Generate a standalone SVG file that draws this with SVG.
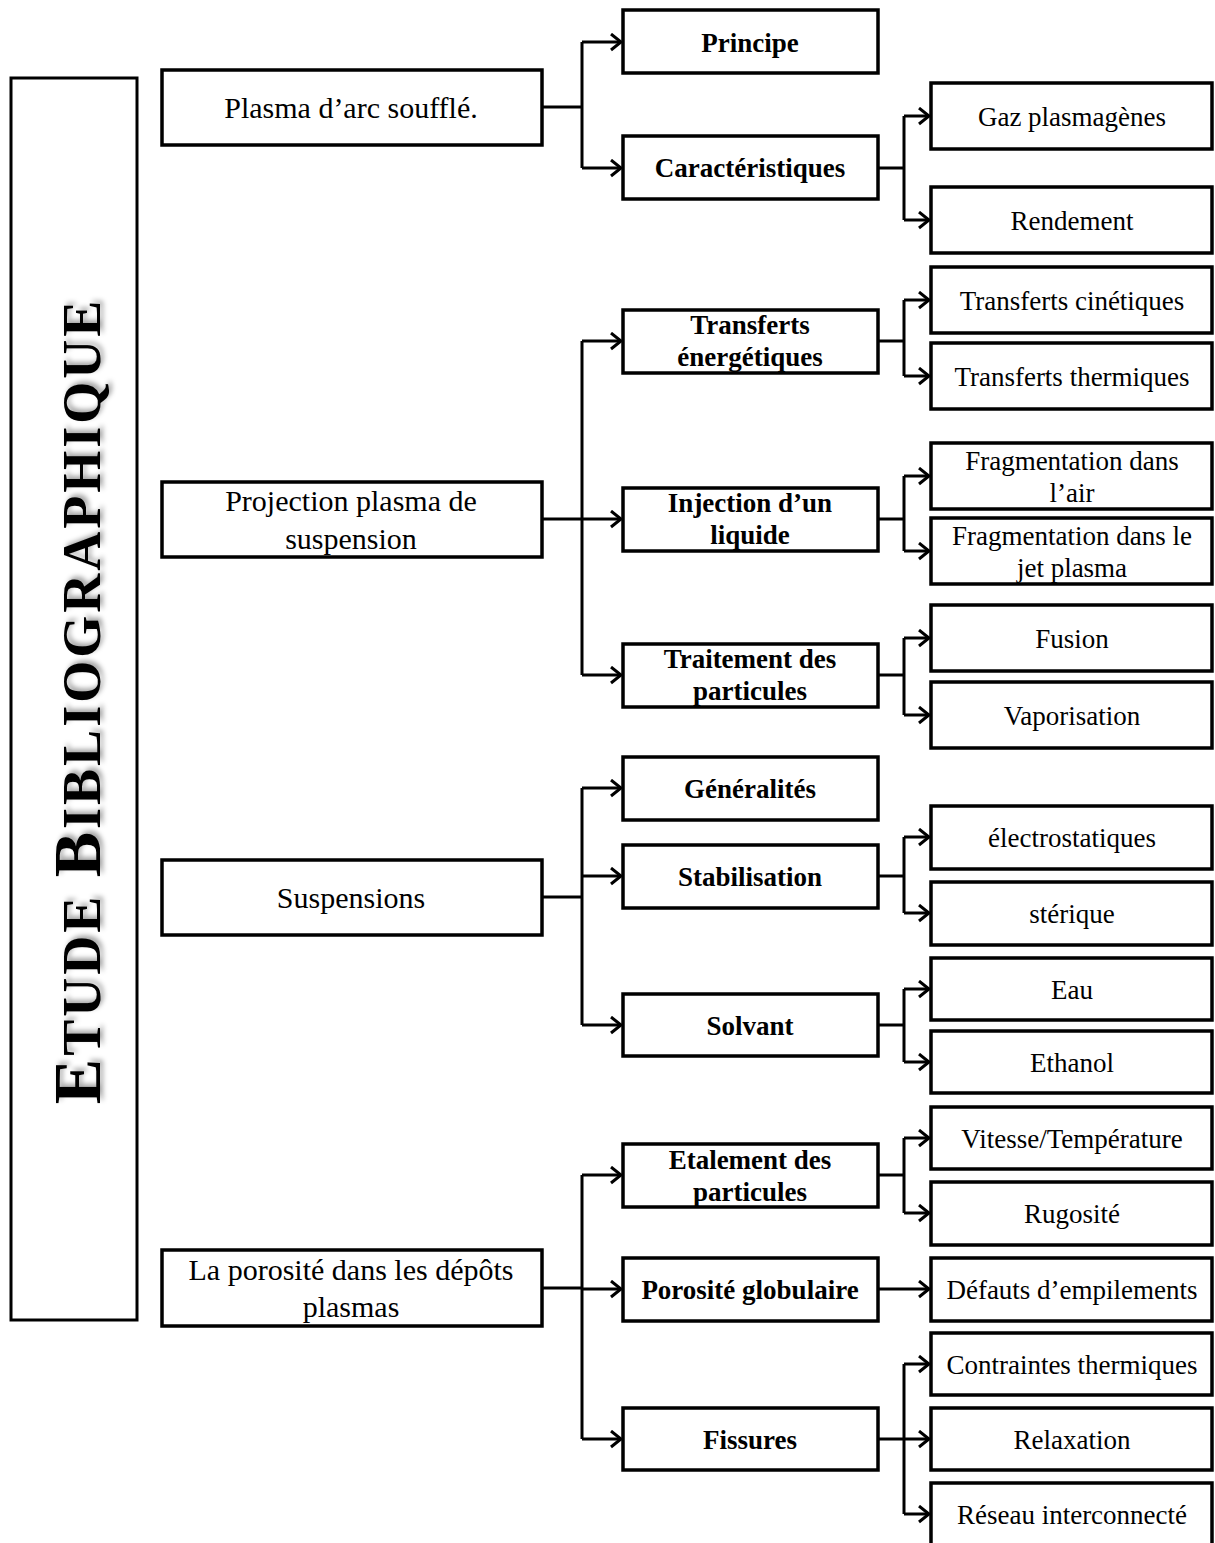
<svg xmlns="http://www.w3.org/2000/svg" width="1215" height="1543" viewBox="0 0 1215 1543">
<style>
.box{fill:#fff;stroke:#000;stroke-width:3.5}
.l1{font-family:"Liberation Serif",serif;font-size:30px;text-anchor:middle;fill:#000}
.l2{font-family:"Liberation Serif",serif;font-size:27px;font-weight:bold;text-anchor:middle;fill:#000}
.l3{font-family:"Liberation Serif",serif;font-size:27px;text-anchor:middle;fill:#000}
.c{fill:none;stroke:#000;stroke-width:3}
.a{fill:none;stroke:#000;stroke-width:3;marker-end:url(#arr)}
.title{font-family:"Liberation Serif",serif;font-weight:bold;text-anchor:middle;fill:#000}
</style>
<defs>
<marker id="arr" markerUnits="userSpaceOnUse" markerWidth="14" markerHeight="20" refX="11" refY="9" orient="auto">
<path d="M1,1 L11,9 L1,17" fill="none" stroke="#000" stroke-width="3"/>
</marker>
<filter id="sh" x="-10%" y="-10%" width="130%" height="130%">
<feDropShadow dx="3" dy="3" stdDeviation="2.5" flood-color="#000" flood-opacity="0.35"/>
</filter>
</defs>
<rect width="1215" height="1543" fill="#fff"/>

<g id="connectors">
<path class="c" d="M542,107 H582 M582,42 V168"/>
<path class="a" d="M582,42 H621"/>
<path class="a" d="M582,168 H621"/>
<path class="c" d="M878,168 H904 M904,116 V220"/>
<path class="a" d="M904,116 H929"/>
<path class="a" d="M904,220 H929"/>

<path class="c" d="M582,341 V675"/>
<path class="a" d="M582,341 H621"/>
<path class="a" d="M542,519 H621"/>
<path class="a" d="M582,675 H621"/>
<path class="c" d="M878,341 H904 M904,300 V376"/>
<path class="a" d="M904,300 H929"/>
<path class="a" d="M904,376 H929"/>
<path class="c" d="M878,519 H904 M904,476 V551"/>
<path class="a" d="M904,476 H929"/>
<path class="a" d="M904,551 H929"/>
<path class="c" d="M878,675 H904 M904,638 V715"/>
<path class="a" d="M904,638 H929"/>
<path class="a" d="M904,715 H929"/>

<path class="c" d="M542,897 H582 M582,788 V1025"/>
<path class="a" d="M582,788 H621"/>
<path class="a" d="M582,876 H621"/>
<path class="a" d="M582,1025 H621"/>
<path class="c" d="M878,876 H904 M904,837 V913"/>
<path class="a" d="M904,837 H929"/>
<path class="a" d="M904,913 H929"/>
<path class="c" d="M878,1025 H904 M904,989 V1062"/>
<path class="a" d="M904,989 H929"/>
<path class="a" d="M904,1062 H929"/>

<path class="c" d="M542,1288 H582 M582,1175 V1439"/>
<path class="a" d="M582,1175 H621"/>
<path class="a" d="M582,1289 H621"/>
<path class="a" d="M582,1439 H621"/>
<path class="c" d="M878,1175 H904 M904,1138 V1213"/>
<path class="a" d="M904,1138 H929"/>
<path class="a" d="M904,1213 H929"/>
<path class="a" d="M878,1289 H929"/>
<path class="c" d="M904,1364 V1514"/>
<path class="a" d="M878,1439 H929"/>
<path class="a" d="M904,1364 H929"/>
<path class="a" d="M904,1514 H929"/>
</g>

<g id="title">
<rect class="box" x="11" y="78" width="126" height="1242" style="stroke-width:3"/>
<text class="title" transform="translate(100,701) rotate(-90)" filter="url(#sh)" letter-spacing="3"><tspan font-size="68">E</tspan><tspan font-size="54">TUDE </tspan><tspan font-size="68">B</tspan><tspan font-size="54">IBLIOGRAPHIQUE</tspan></text>
</g>

<g id="n-plasma-arc"><rect class="box" x="162" y="70" width="380" height="75"/><text class="l1" x="351" y="118">Plasma d’arc soufflé.</text></g>
<g id="n-projection"><rect class="box" x="162" y="482" width="380" height="75"/><text class="l1" x="351" y="511">Projection plasma de</text><text class="l1" x="351" y="549">suspension</text></g>
<g id="n-suspensions"><rect class="box" x="162" y="860" width="380" height="75"/><text class="l1" x="351" y="908">Suspensions</text></g>
<g id="n-porosite"><rect class="box" x="162" y="1250" width="380" height="76"/><text class="l1" x="351" y="1280">La porosité dans les dépôts</text><text class="l1" x="351" y="1317">plasmas</text></g>

<g id="n-principe"><rect class="box" x="623" y="10" width="255" height="63"/><text class="l2" x="750" y="52">Principe</text></g>
<g id="n-caracteristiques"><rect class="box" x="623" y="136" width="255" height="63"/><text class="l2" x="750" y="177">Caractéristiques</text></g>
<g id="n-transferts"><rect class="box" x="623" y="310" width="255" height="63"/><text class="l2" x="750" y="334">Transferts</text><text class="l2" x="750" y="366">énergétiques</text></g>
<g id="n-injection"><rect class="box" x="623" y="488" width="255" height="63"/><text class="l2" x="750" y="512">Injection d’un</text><text class="l2" x="750" y="544">liquide</text></g>
<g id="n-traitement"><rect class="box" x="623" y="644" width="255" height="63"/><text class="l2" x="750" y="668">Traitement des</text><text class="l2" x="750" y="700">particules</text></g>
<g id="n-generalites"><rect class="box" x="623" y="757" width="255" height="63"/><text class="l2" x="750" y="798">Généralités</text></g>
<g id="n-stabilisation"><rect class="box" x="623" y="845" width="255" height="63"/><text class="l2" x="750" y="886">Stabilisation</text></g>
<g id="n-solvant"><rect class="box" x="623" y="994" width="255" height="62"/><text class="l2" x="750" y="1035">Solvant</text></g>
<g id="n-etalement"><rect class="box" x="623" y="1144" width="255" height="63"/><text class="l2" x="750" y="1169">Etalement des</text><text class="l2" x="750" y="1201">particules</text></g>
<g id="n-porosite-globulaire"><rect class="box" x="623" y="1258" width="255" height="63"/><text class="l2" x="750" y="1299">Porosité globulaire</text></g>
<g id="n-fissures"><rect class="box" x="623" y="1408" width="255" height="62"/><text class="l2" x="750" y="1449">Fissures</text></g>

<g id="n-gaz"><rect class="box" x="931" y="83" width="281" height="66"/><text class="l3" x="1072" y="126">Gaz plasmagènes</text></g>
<g id="n-rendement"><rect class="box" x="931" y="187" width="281" height="66"/><text class="l3" x="1072" y="230">Rendement</text></g>
<g id="n-cinetiques"><rect class="box" x="931" y="267" width="281" height="66"/><text class="l3" x="1072" y="310">Transferts cinétiques</text></g>
<g id="n-thermiques"><rect class="box" x="931" y="343" width="281" height="66"/><text class="l3" x="1072" y="386">Transferts thermiques</text></g>
<g id="n-frag-air"><rect class="box" x="931" y="443" width="281" height="66"/><text class="l3" x="1072" y="470">Fragmentation dans</text><text class="l3" x="1072" y="502">l’air</text></g>
<g id="n-frag-jet"><rect class="box" x="931" y="518" width="281" height="66"/><text class="l3" x="1072" y="545">Fragmentation dans le</text><text class="l3" x="1072" y="577">jet plasma</text></g>
<g id="n-fusion"><rect class="box" x="931" y="605" width="281" height="66"/><text class="l3" x="1072" y="648">Fusion</text></g>
<g id="n-vaporisation"><rect class="box" x="931" y="682" width="281" height="66"/><text class="l3" x="1072" y="725">Vaporisation</text></g>
<g id="n-electro"><rect class="box" x="931" y="806" width="281" height="63"/><text class="l3" x="1072" y="847">électrostatiques</text></g>
<g id="n-sterique"><rect class="box" x="931" y="882" width="281" height="63"/><text class="l3" x="1072" y="923">stérique</text></g>
<g id="n-eau"><rect class="box" x="931" y="958" width="281" height="62"/><text class="l3" x="1072" y="999">Eau</text></g>
<g id="n-ethanol"><rect class="box" x="931" y="1031" width="281" height="62"/><text class="l3" x="1072" y="1072">Ethanol</text></g>
<g id="n-vitesse"><rect class="box" x="931" y="1107" width="281" height="62"/><text class="l3" x="1072" y="1148">Vitesse/Température</text></g>
<g id="n-rugosite"><rect class="box" x="931" y="1182" width="281" height="63"/><text class="l3" x="1072" y="1223">Rugosité</text></g>
<g id="n-defauts"><rect class="box" x="931" y="1258" width="281" height="63"/><text class="l3" x="1072" y="1299">Défauts d’empilements</text></g>
<g id="n-contraintes"><rect class="box" x="931" y="1333" width="281" height="62"/><text class="l3" x="1072" y="1374">Contraintes thermiques</text></g>
<g id="n-relaxation"><rect class="box" x="931" y="1408" width="281" height="62"/><text class="l3" x="1072" y="1449">Relaxation</text></g>
<g id="n-reseau"><rect class="box" x="931" y="1483" width="281" height="70"/><text class="l3" x="1072" y="1524">Réseau interconnecté</text></g>
</svg>
